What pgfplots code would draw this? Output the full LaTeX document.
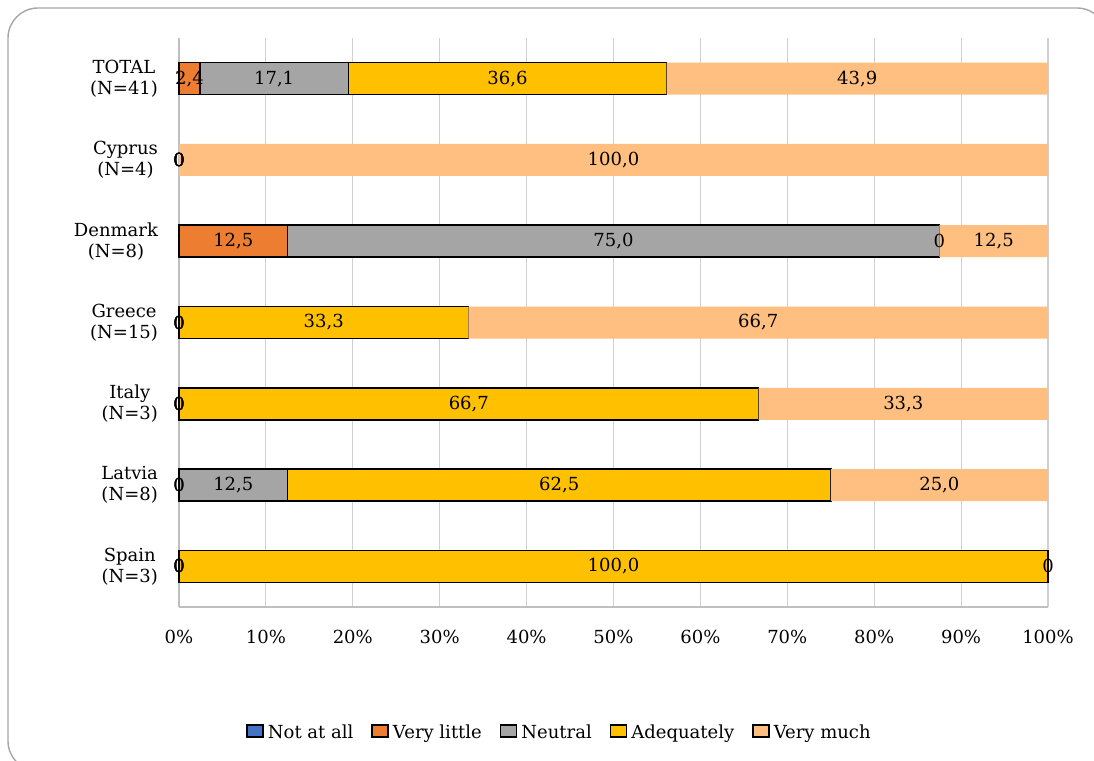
\documentclass[border=0pt]{standalone}
\usepackage{fontspec}
\setmainfont{DejaVu Serif}
\usepackage{pgfplots}
\usepackage{pgfplotstable}
\pgfplotsset{compat=1.18}

\definecolor{cNot}{HTML}{4472C4}
\definecolor{cLittle}{HTML}{ED7D31}
\definecolor{cNeutral}{HTML}{A5A5A5}
\definecolor{cAdeq}{HTML}{FFC000}
\definecolor{cMuch}{HTML}{FFBF80}
\definecolor{cGrid}{HTML}{D0D0D0}
\definecolor{cAxis}{HTML}{BFBFBF}
\definecolor{cFrame}{HTML}{A6A6A6}

% y: 0 = Spain ... 6 = TOTAL
% a..e = Not at all, Very little, Neutral, Adequately, Very much
\pgfplotstableread{
y  a   b    c    d     e     la  lb   lc   ld    le
0  0   0    0    100   0     0   0    0    100,0 0
1  0   0    12.5 62.5  25    0   0    12,5 62,5  25,0
2  0   0    0    66.7  33.3  0   0    0    66,7  33,3
3  0   0    0    33.3  66.7  0   0    0    33,3  66,7
4  0   12.5 75   0     12.5  {}  12,5 75,0 0     12,5
5  0   0    0    0     100   0   0    0    0     100,0
6  0   2.4  17.1 36.6  43.9  {}  2,4  17,1 36,6  43,9
}\survey

\begin{document}
\begin{tikzpicture}
\path[use as bounding box, clip] (0pt,0pt) rectangle (547pt,-380.5pt);
\draw[cFrame, line width=0.7pt, rounded corners=15pt] (4pt,-4pt) rectangle (553.5pt,-385.5pt);
\begin{axis}[
    at={(89.5pt,-303.5pt)}, anchor=south west,
    scale only axis, width=434.5pt, height=284.5pt,
    xmin=0, xmax=100, ymin=-0.5, ymax=6.5,
    clip=false,
    axis lines*=left,
    axis line style={draw=cAxis, line width=0.6pt},
    major tick length=0pt,
    xmajorgrids, major grid style={draw=cGrid, line width=0.6pt},
    xtick={0,10,...,100},
    xticklabel={\pgfmathprintnumber[assume math mode=true]{\tick}\%},
    ytick={0,1,2,3,4,5,6},
    yticklabels={{Spain\\(N=3)},{Latvia\\(N=8)},{Italy\\(N=3)},{Greece\\(N=15)},{Denmark\\(N=8)},{Cyprus\\(N=4)},{TOTAL\\(N=41)}},
    tick label style={font=\fontsize{9}{10.5}\selectfont, black},
    yticklabel style={align=center, xshift=-7pt},
    xticklabel style={yshift=-8pt},
    bar width=16pt,
    legend columns=-1,
    legend style={at={(0.439,-0.2214)}, anchor=center, draw=none, fill=none,
        font=\fontsize{9}{10.5}\selectfont,
        /tikz/every even column/.append style={column sep=7pt}},
    legend image code/.code={\draw[#1, line width=0.8pt] (0pt,-3pt) rectangle (6pt,3pt);},
    barplot/.style={xbar stacked, bar width=16pt, line width=0.8pt},
    labelplot/.style={forget plot, stack plots=false, sharp plot, only marks,
        mark=*, mark size=0pt, mark options={draw=none, fill=none},
        point meta=explicit symbolic, nodes near coords,
        every node near coord/.append style={anchor=center, inner sep=0pt,
            font=\fontsize{9}{10.5}\selectfont, text=black}},
]
\addplot[barplot, fill=cNot, draw=black] table[x=a, y=y] {\survey};
\addplot[barplot, fill=cLittle, draw=black] table[x=b, y=y] {\survey};
\addplot[barplot, fill=cNeutral, draw=black] table[x=c, y=y] {\survey};
\addplot[barplot, fill=cAdeq, draw=black] table[x=d, y=y] {\survey};
\addplot[barplot, fill=cMuch, draw=none] table[x=e, y=y] {\survey};
\legend{Not at all, Very little, Neutral, Adequately, Very much}

\addplot[labelplot] table[x expr=0.5*\thisrow{a}, y=y, meta=la] {\survey};
\addplot[labelplot] table[x expr=\thisrow{a}+0.5*\thisrow{b}, y=y, meta=lb] {\survey};
\addplot[labelplot] table[x expr=\thisrow{a}+\thisrow{b}+0.5*\thisrow{c}, y=y, meta=lc] {\survey};
\addplot[labelplot] table[x expr=\thisrow{a}+\thisrow{b}+\thisrow{c}+0.5*\thisrow{d}, y=y, meta=ld] {\survey};
\addplot[labelplot] table[x expr=\thisrow{a}+\thisrow{b}+\thisrow{c}+\thisrow{d}+0.5*\thisrow{e}, y=y, meta=le] {\survey};
\end{axis}
\end{tikzpicture}
\end{document}
